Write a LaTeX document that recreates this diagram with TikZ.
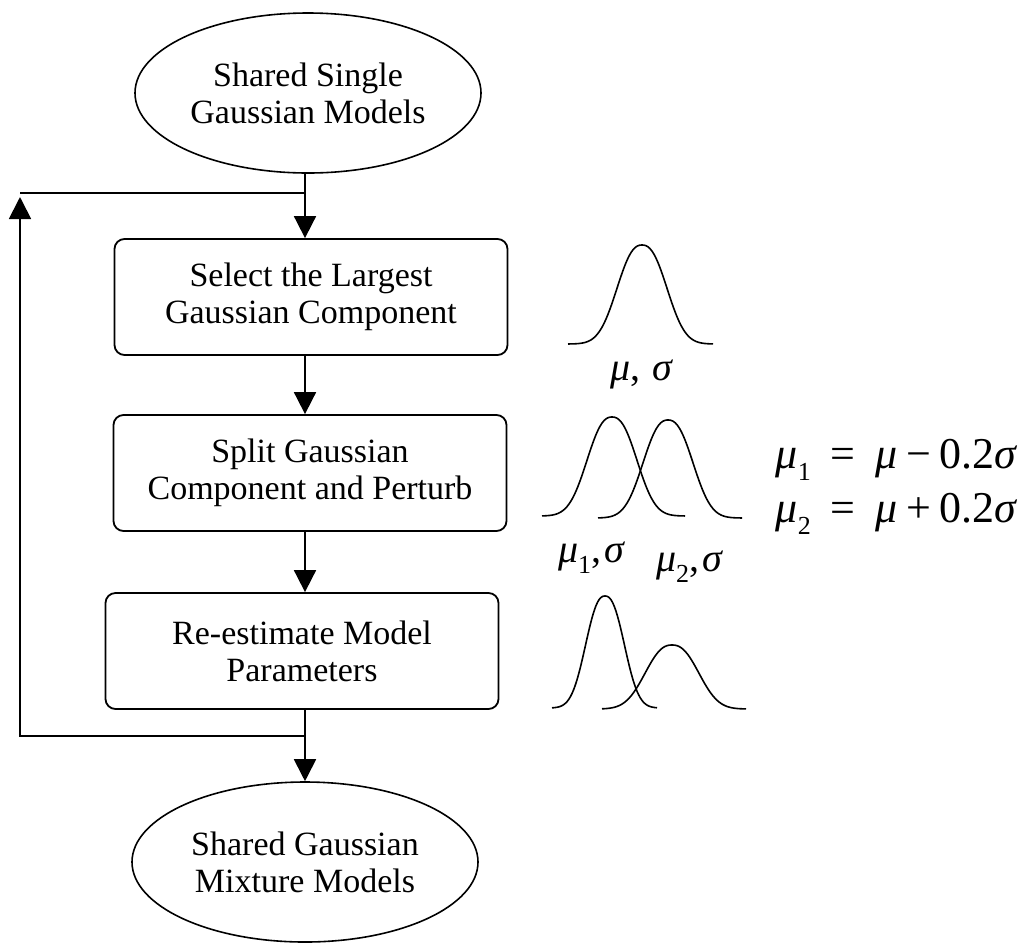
\documentclass[tikz,border=0pt]{standalone}
\usepackage{fontspec}
\setmainfont{Liberation Serif}
\usetikzlibrary{arrows.meta,shapes.geometric}
\newcommand\gm{{\itshape μ}}
\newcommand\gs{{\itshape σ}}
\newcommand\lowsub[1]{\raisebox{-0.28em}{\fontsize{13}{13}\selectfont #1}}
\begin{document}
\begin{tikzpicture}[x=0.5pt,y=-0.5pt,
  every node/.style={font=\fontsize{17}{18.5}\selectfont, align=center},
  terminal/.style={ellipse, draw, line width=0.8pt, inner sep=0pt,
    minimum width=173pt, minimum height=80pt},
  stepbox/.style={rectangle, rounded corners=5pt, draw, line width=0.9pt,
    minimum width=196.5pt, minimum height=58pt, inner sep=0pt},
  link/.style={line width=0.9pt},
  arr/.style={link, -{Triangle[width=11pt,length=11pt]}},
  bell/.style={line width=0.8pt, smooth},
  greek/.style={font=\fontsize{20}{22}\selectfont, inner sep=0pt},
  formula/.style={font=\fontsize{22}{27}\selectfont, inner sep=0pt, align=right}]
\useasboundingbox (0,0) rectangle (1027,944);

% flowchart nodes
\node[terminal] (e1) at (308,93) {Shared Single\\Gaussian Models};
\node[stepbox] (b1) at (311,297) {Select the Largest\\Gaussian Component};
\node[stepbox] (b2) at (310,473) {Split Gaussian\\Component and Perturb};
\node[stepbox] (b3) at (302,651) {Re-estimate Model\\Parameters};
\node[terminal] (e2) at (305,862) {Shared Gaussian\\Mixture Models};

% main column and feedback loop
\coordinate (ax) at (305,0);
\coordinate (j1) at (305,193);
\coordinate (j2) at (305,736);
\coordinate (lc) at (20,193);
\coordinate (lt) at (20,197);
\coordinate (lb) at (20,736);
\draw[arr] (e1.south -| ax) -- (b1.north -| ax);
\draw[arr] (b1.south -| ax) -- (b2.north -| ax);
\draw[arr] (b2.south -| ax) -- (b3.north -| ax);
\draw[arr] (b3.south -| ax) -- (e2.north -| ax);
\draw[arr] (j2) -- (lb) -- (lt);
\draw[link] (lc) -- (j1);

% single Gaussian (slightly flat-topped bell)
\draw[bell] plot[domain=-74:71, samples=70] ({642+\x}, {344-99*exp(-(abs(\x)/31.5)^2.4)});
\node[greek, anchor=base] (l1) at (641,380) {\gm,\hspace{0.3em}\gs};

% split into two components
\draw[bell] plot[domain=-70:73, samples=70] ({612+\x}, {516-99*exp(-(abs(\x)/31.5)^2.4)});
\draw[bell] plot[domain=-70:74, samples=70] ({668+\x}, {518-98*exp(-(abs(\x)/31.5)^2.4)});
\node[greek, anchor=base] (l2) at (591,562) {\gm\lowsub{1},\hspace{0.08em}\gs};
\node[greek, anchor=base] (l3) at (689,571) {\gm\lowsub{2},\hspace{0.08em}\gs};

% re-estimated components
\draw[bell] plot[domain=-53:52, samples=70] ({605+\x}, {708-112*exp(-(abs(\x)/24.5)^2.4)});
\draw[bell] plot[domain=-70:74, samples=70] ({672+\x}, {709-64*exp(-(abs(\x)/33.8)^2.4)});

% perturbation rule
\node[formula, anchor=base east] (f1) at (1017,468)
  {\gm\lowsub{1}\hspace{0.45em}=\hspace{0.45em}\gm\hspace{0.2em}−\hspace{0.2em}0.2\gs};
\node[formula, anchor=base east] (f2) at (1017,522)
  {\gm\lowsub{2}\hspace{0.45em}=\hspace{0.45em}\gm\hspace{0.2em}+\hspace{0.2em}0.2\gs};
\end{tikzpicture}
\end{document}
